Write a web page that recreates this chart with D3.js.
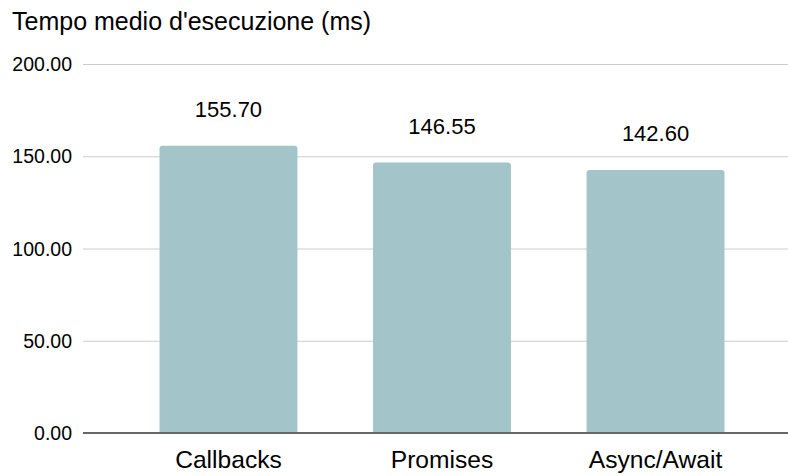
<!DOCTYPE html>
<html>
<head>
<meta charset="utf-8">
<script src="https://cdn.jsdelivr.net/npm/d3@7"></script>
<style>
  body { margin: 0; background: #fff; }
  text { font-family: Arial, "Liberation Sans", sans-serif; fill: #000; }
</style>
</head>
<body>
<div id="chart"></div>
<script>
const categories = ["Callbacks", "Promises", "Async/Await"];
const values = [155.70, 146.55, 142.60];
const yTicks = [0, 50, 100, 150, 200];
const title = "Tempo medio d'esecuzione (ms)";

const width = 788, height = 476;
const plotLeft = 83, plotRight = 788, plotTop = 64, plotBottom = 433;

const svg = d3.select("#chart").append("svg")
    .attr("width", width)
    .attr("height", height);

const x = d3.scaleBand()
    .domain(categories)
    .range([101, 783])
    .paddingInner(0.354)
    .paddingOuter(0.274);

const y = d3.scaleLinear()
    .domain([0, 200])
    .range([plotBottom, plotTop]);

// gridlines
svg.append("g")
    .selectAll("line")
    .data(yTicks.filter(d => d > 0))
    .enter().append("line")
    .attr("x1", plotLeft)
    .attr("x2", plotRight)
    .attr("y1", d => y(d) + 0.5)
    .attr("y2", d => y(d) + 0.5)
    .attr("stroke", "#cccccc")
    .attr("stroke-width", 1);

// y tick labels
svg.append("g")
    .selectAll("text")
    .data(yTicks)
    .enter().append("text")
    .attr("x", 72)
    .attr("y", d => y(d))
    .attr("dy", "0.36em")
    .attr("text-anchor", "end")
    .style("font-size", "19.5px")
    .text(d => d3.format(".2f")(d));

// bars with rounded top corners
const r = 3;
svg.append("g")
    .selectAll("path")
    .data(values)
    .enter().append("path")
    .attr("fill", "#a3c4c9")
    .attr("d", (d, i) => {
      const x0 = x(categories[i]), x1 = x0 + x.bandwidth();
      const y0 = y(d), y1 = y(0);
      return `M${x0},${y1}V${y0 + r}Q${x0},${y0} ${x0 + r},${y0}H${x1 - r}Q${x1},${y0} ${x1},${y0 + r}V${y1}Z`;
    });

// baseline
svg.append("line")
    .attr("x1", plotLeft)
    .attr("x2", plotRight)
    .attr("y1", y(0))
    .attr("y2", y(0))
    .attr("stroke", "#666666")
    .attr("stroke-width", 2);

// value labels
svg.append("g")
    .selectAll("text")
    .data(values)
    .enter().append("text")
    .attr("x", (d, i) => x(categories[i]) + x.bandwidth() / 2)
    .attr("y", d => y(d) - 28.5)
    .attr("text-anchor", "middle")
    .style("font-size", "22px")
    .text(d => d3.format(".2f")(d));

// category labels
svg.append("g")
    .selectAll("text")
    .data(categories)
    .enter().append("text")
    .attr("x", d => x(d) + x.bandwidth() / 2)
    .attr("y", 468)
    .attr("text-anchor", "middle")
    .style("font-size", "24.6px")
    .text(d => d);

svg.append("text")
    .attr("x", 12)
    .attr("y", 30)
    .style("font-size", "25px")
    .text(title);
</script>
</body>
</html>
